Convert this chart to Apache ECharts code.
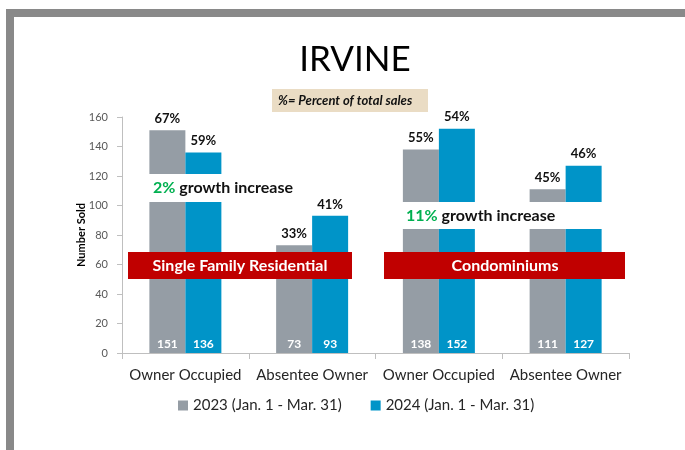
<!DOCTYPE html>
<html>
<head>
<meta charset="utf-8">
<script src="https://cdn.jsdelivr.net/npm/echarts@6/dist/echarts.min.js"></script>
<style>
  html, body { margin: 0; padding: 0; background: #fff; }
  #chart { width: 685px; height: 450px; }
</style>
</head>
<body>
<div id="chart"></div>
<script>
// data
const categories = ["Owner Occupied", "Absentee Owner", "Owner Occupied", "Absentee Owner"];
const sold2023 = [151, 73, 138, 111];
const sold2024 = [136, 93, 152, 127];
const pct2023 = [67, 33, 55, 45];
const pct2024 = [59, 41, 54, 46];
const seriesNames = ["2023 (Jan. 1 - Mar. 31)", "2024 (Jan. 1 - Mar. 31)"];
const yTicks = { min: 0, max: 160, interval: 20 };

const FONT = "Lato, 'Noto Sans', sans-serif";
const GRAY = "#959da5";
const BLUE = "#0094c8";

const chart = echarts.init(document.getElementById("chart"));

// bar with white count label at bottom
function countSeries(name, data, color) {
    return {
        name: name,
        type: "bar",
        data: data,
        barWidth: 36,
        barGap: "0%",
        itemStyle: { color: color },
        label: {
            show: true,
            position: "insideBottom",
            distance: 3,
            color: "#fff",
            fontFamily: FONT,
            fontWeight: "bold",
            fontSize: 12
        }
    };
}
// transparent bar on a hidden axis, only to carry the % label on top
function pctSeries(data, pct) {
    return {
        name: "pct",
        type: "bar",
        xAxisIndex: 1,
        data: data,
        barWidth: 36,
        barGap: "0%",
        itemStyle: { color: "rgba(0,0,0,0)" },
        label: {
            show: true,
            position: "top",
            distance: 5,
            color: "#111",
            fontFamily: FONT,
            fontWeight: "bold",
            fontSize: 13,
            formatter: p => pct[p.dataIndex] + "%"
        },
        silent: true
    };
}

const axisGray = "#bfbfbf";

const option = {
    backgroundColor: "#fff",
    animation: false,
    title: {
        text: "IRVINE",
        left: 350,
        top: 37,
        textAlign: "center",
        textStyle: { fontFamily: FONT, fontWeight: "normal", fontSize: 35, color: "#000" }
    },
    legend: {
        data: seriesNames,
        left: 173,
        top: 393,
        icon: "rect",
        itemWidth: 10,
        itemHeight: 10,
        itemGap: 29,
        textStyle: { fontFamily: FONT, fontSize: 15, color: "#262626" }
    },
    grid: { left: 122, right: 56, top: 117, bottom: 97 },
    xAxis: [
        {
            type: "category",
            data: categories,
            axisLine: { lineStyle: { color: axisGray } },
            axisTick: { show: true, length: 6, lineStyle: { color: axisGray } },
            axisLabel: { fontFamily: FONT, fontSize: 15, color: "#262626", margin: 15, interval: 0 }
        },
        {
            type: "category",
            data: categories,
            show: false
        }
    ],
    yAxis: {
        type: "value",
        min: yTicks.min,
        max: yTicks.max,
        interval: yTicks.interval,
        name: "Number Sold",
        nameLocation: "middle",
        nameGap: 35,
        nameMoveOverlap: false,
        nameRotate: 90,
        nameTextStyle: { fontFamily: FONT, fontWeight: "bold", fontSize: 11, color: "#000" },
        axisLine: { show: true, lineStyle: { color: axisGray } },
        axisTick: { show: true, length: 5, lineStyle: { color: axisGray } },
        splitLine: { show: false },
        axisLabel: { fontFamily: FONT, fontSize: 11, color: "#595959", margin: 14, padding: [10, 0, 0, 0] }
    },
    series: [
        countSeries(seriesNames[0], sold2023, GRAY),
        countSeries(seriesNames[1], sold2024, BLUE),
        pctSeries(sold2023, pct2023),
        pctSeries(sold2024, pct2024)
    ],
    graphic: [
        // frame
        { type: "rect", shape: { x: 6, y: 9, width: 679, height: 8 }, style: { fill: "#898989" }, z: 20 },
        { type: "rect", shape: { x: 6, y: 9, width: 8, height: 441 }, style: { fill: "#898989" }, z: 20 },
        // note box
        { type: "rect", shape: { x: 272, y: 89, width: 156, height: 23 }, style: { fill: "#eadcc4" }, z: 20 },
        { type: "text", x: 278, y: 101, z: 21,
          style: { text: "%= Percent of total sales", fill: "#111", font: "italic bold 13px " + FONT, verticalAlign: "middle" } },
        // growth cutouts
        { type: "rect", shape: { x: 145, y: 174, width: 155, height: 28 }, style: { fill: "#fff" }, z: 20 },
        { type: "text", x: 153, y: 188, z: 21,
          style: { text: "{g|2%} growth increase", fill: "#111", font: "bold 16px " + FONT, verticalAlign: "middle",
                   rich: { g: { fill: "#00b050", font: "bold 16px " + FONT } } } },
        { type: "rect", shape: { x: 398, y: 202, width: 210, height: 27 }, style: { fill: "#fff" }, z: 20 },
        { type: "text", x: 406, y: 216, z: 21,
          style: { text: "{g|11%} growth increase", fill: "#111", font: "bold 16px " + FONT, verticalAlign: "middle",
                   rich: { g: { fill: "#00b050", font: "bold 16px " + FONT } } } },
        // banners
        { type: "rect", shape: { x: 128, y: 252, width: 224, height: 27 }, style: { fill: "#c00000" }, z: 20 },
        { type: "text", x: 240, y: 266, z: 21,
          style: { text: "Single Family Residential", fill: "#fff", font: "bold 16px " + FONT, align: "center", verticalAlign: "middle" } },
        { type: "rect", shape: { x: 384, y: 252, width: 241, height: 27 }, style: { fill: "#c00000" }, z: 20 },
        { type: "text", x: 505, y: 266, z: 21,
          style: { text: "Condominiums", fill: "#fff", font: "bold 16px " + FONT, align: "center", verticalAlign: "middle" } }
    ]
};
chart.setOption(option);
</script>
</body>
</html>
